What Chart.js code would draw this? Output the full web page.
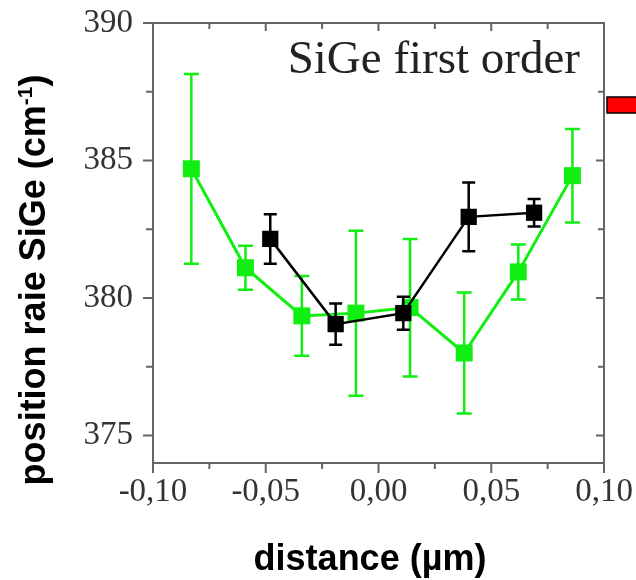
<!DOCTYPE html>
<html>
<head>
<meta charset="utf-8">
<script src="https://cdn.jsdelivr.net/npm/chart.js@4.4.1/dist/chart.umd.min.js"></script>
<style>
  html, body { margin: 0; padding: 0; background: #fff; }
  #wrap { width: 636px; height: 580px; }
</style>
</head>
<body>
<div id="wrap"><canvas id="chart" width="636" height="580"></canvas></div>
<script>
// ===== DATA =====
var greenX = [-0.083, -0.059, -0.034, -0.010, 0.014, 0.038, 0.062, 0.086];
var greenY = [384.7, 381.1, 379.35, 379.45, 379.65, 378.0, 380.95, 384.45];
var greenErr = [3.45, 0.8, 1.45, 3.0, 2.5, 2.2, 1.0, 1.7];

var blackX = [-0.048, -0.019, 0.011, 0.040, 0.069];
var blackY = [382.15, 379.05, 379.45, 382.95, 383.1];
var blackErr = [0.9, 0.75, 0.6, 1.25, 0.5];

var xTicks = [-0.10, -0.05, 0.00, 0.05, 0.10];
var xMinorTicks = [-0.075, -0.025, 0.025, 0.075];
var yTicks = [375, 380, 385, 390];
var yMinorTicks = [377.5, 382.5, 387.5];

var annotationText = 'SiGe first order';
var yTitle = ['position raie SiGe (cm', '-1', ')'];
var xTitle = 'distance (µm)';

var toPoints = function (xs, ys) {
    return xs.map(function (x, i) { return { x: x, y: ys[i] }; });
};

// Error bars, drawn under each dataset's own line and markers.
var errorBarPlugin = {
    id: 'errorBars',
    beforeDatasetDraw: function (chart, args) {
        var ds = chart.data.datasets[args.index];
        if (!ds.errors) {
            return;
        }
        var ctx = chart.ctx;
        var xs = chart.scales.x;
        var ys = chart.scales.y;
        ctx.save();
        ctx.strokeStyle = ds.borderColor;
        ctx.lineWidth = ds.errLineWidth;
        ds.data.forEach(function (p, i) {
            var px = xs.getPixelForValue(p.x);
            var top = ys.getPixelForValue(p.y + ds.errors[i]);
            var bot = ys.getPixelForValue(p.y - ds.errors[i]);
            var hw = ds.capWidth / 2;
            ctx.beginPath();
            ctx.moveTo(px, top);
            ctx.lineTo(px, bot);
            ctx.moveTo(px - hw, top);
            ctx.lineTo(px + hw, top);
            ctx.moveTo(px - hw, bot);
            ctx.lineTo(px + hw, bot);
            ctx.stroke();
        });
        ctx.restore();
    }
};

// Frame, tick marks on all four sides, annotation, axis titles, side marker.
var framePlugin = {
    id: 'frame',
    afterDraw: function (chart) {
        var ctx = chart.ctx;
        var a = chart.chartArea;
        var xs = chart.scales.x;
        var ys = chart.scales.y;
        ctx.save();
        ctx.strokeStyle = '#666';
        ctx.lineWidth = 2;
        ctx.strokeRect(a.left, a.top, a.right - a.left, a.bottom - a.top);

        ctx.beginPath();
        xTicks.forEach(function (v) {
            var px = xs.getPixelForValue(v);
            ctx.moveTo(px, a.bottom); ctx.lineTo(px, a.bottom + 10);
            ctx.moveTo(px, a.top); ctx.lineTo(px, a.top + 8);
        });
        xMinorTicks.forEach(function (v) {
            var px = xs.getPixelForValue(v);
            ctx.moveTo(px, a.bottom); ctx.lineTo(px, a.bottom + 6);
            ctx.moveTo(px, a.top); ctx.lineTo(px, a.top + 6);
        });
        yTicks.forEach(function (v) {
            var py = ys.getPixelForValue(v);
            ctx.moveTo(a.left, py); ctx.lineTo(a.left - 10, py);
            ctx.moveTo(a.right, py); ctx.lineTo(a.right - 8, py);
        });
        yMinorTicks.forEach(function (v) {
            var py = ys.getPixelForValue(v);
            ctx.moveTo(a.left, py); ctx.lineTo(a.left - 7, py);
            ctx.moveTo(a.right, py); ctx.lineTo(a.right - 6, py);
        });
        ctx.stroke();

        // Annotation inside the plot.
        ctx.fillStyle = '#222';
        ctx.font = '47px "Liberation Serif"';
        ctx.textAlign = 'right';
        ctx.textBaseline = 'alphabetic';
        ctx.fillText(annotationText, a.right - 24, a.top + 50);

        // X axis title.
        ctx.fillStyle = '#000';
        ctx.textAlign = 'center';
        ctx.font = 'bold 36px "Liberation Sans"';
        ctx.fillText(xTitle, 370, 570);

        // Y axis title with superscript.
        ctx.textAlign = 'left';
        var big = 'bold 36px "Liberation Sans"';
        var small = 'bold 21px "Liberation Sans"';
        ctx.font = big;
        var w0 = ctx.measureText(yTitle[0]).width;
        var w2 = ctx.measureText(yTitle[2]).width;
        ctx.font = small;
        var w1 = ctx.measureText(yTitle[1]).width;
        var total = w0 + w1 + w2;
        ctx.translate(45, 280);
        ctx.rotate(-Math.PI / 2);
        var sx = -total / 2;
        ctx.font = big;
        ctx.fillText(yTitle[0], sx, 0);
        ctx.font = small;
        ctx.fillText(yTitle[1], sx + w0, -13);
        ctx.font = big;
        ctx.fillText(yTitle[2], sx + w0 + w1, 0);
        ctx.setTransform(1, 0, 0, 1, 0, 0);

        // Red marker cut by the right edge.
        ctx.fillStyle = '#ff0000';
        ctx.strokeStyle = '#000';
        ctx.lineWidth = 1.5;
        ctx.fillRect(607, 97, 40, 16);
        ctx.strokeRect(607, 97, 40, 16);
        ctx.restore();
    }
};

var tickFont = { family: '"Liberation Serif"', size: 33 };

new Chart(document.getElementById('chart'), {
    type: 'scatter',
    data: {
        datasets: [{
            label: 'black',
            data: toPoints(blackX, blackY),
            errors: blackErr,
            capWidth: 13,
            errLineWidth: 2.5,
            showLine: true,
            borderColor: '#000',
            backgroundColor: '#000',
            borderWidth: 2.5,
            pointStyle: 'rect',
            pointRadius: 11.5,
            pointBorderWidth: 0
        }, {
            label: 'green',
            data: toPoints(greenX, greenY),
            errors: greenErr,
            capWidth: 15,
            errLineWidth: 2.5,
            showLine: true,
            borderColor: '#11ee11',
            backgroundColor: '#11ee11',
            borderWidth: 3,
            pointStyle: 'rect',
            pointRadius: 12,
            pointBorderWidth: 0
        }]
    },
    options: {
        responsive: false,
        animation: false,
        layout: { padding: { top: 23, right: 32, left: 0, bottom: 0 } },
        plugins: {
            legend: { display: false },
            tooltip: { enabled: false }
        },
        scales: {
            x: {
                type: 'linear',
                min: -0.1,
                max: 0.1,
                afterBuildTicks: function (s) {
                    s.ticks = xTicks.map(function (v) { return { value: v }; });
                },
                afterFit: function (s) {
                    s.height = 117;
                    s.paddingLeft = 0;
                    s.paddingRight = 0;
                },
                grid: { display: false, drawTicks: false },
                border: { display: false },
                ticks: {
                    padding: 10,
                    autoSkip: false,
                    maxRotation: 0,
                    color: '#333',
                    font: tickFont,
                    callback: function (v) {
                        return v.toFixed(2).replace('.', ',');
                    }
                }
            },
            y: {
                type: 'linear',
                min: 374,
                max: 390,
                afterBuildTicks: function (s) {
                    s.ticks = yTicks.map(function (v) { return { value: v }; });
                },
                afterFit: function (s) {
                    s.width = 153;
                    s.paddingTop = 0;
                    s.paddingBottom = 0;
                },
                grid: { display: false, drawTicks: false },
                border: { display: false },
                ticks: {
                    padding: 20,
                    color: '#333',
                    font: tickFont
                }
            }
        }
    },
    plugins: [errorBarPlugin, framePlugin]
});
</script>
</body>
</html>
